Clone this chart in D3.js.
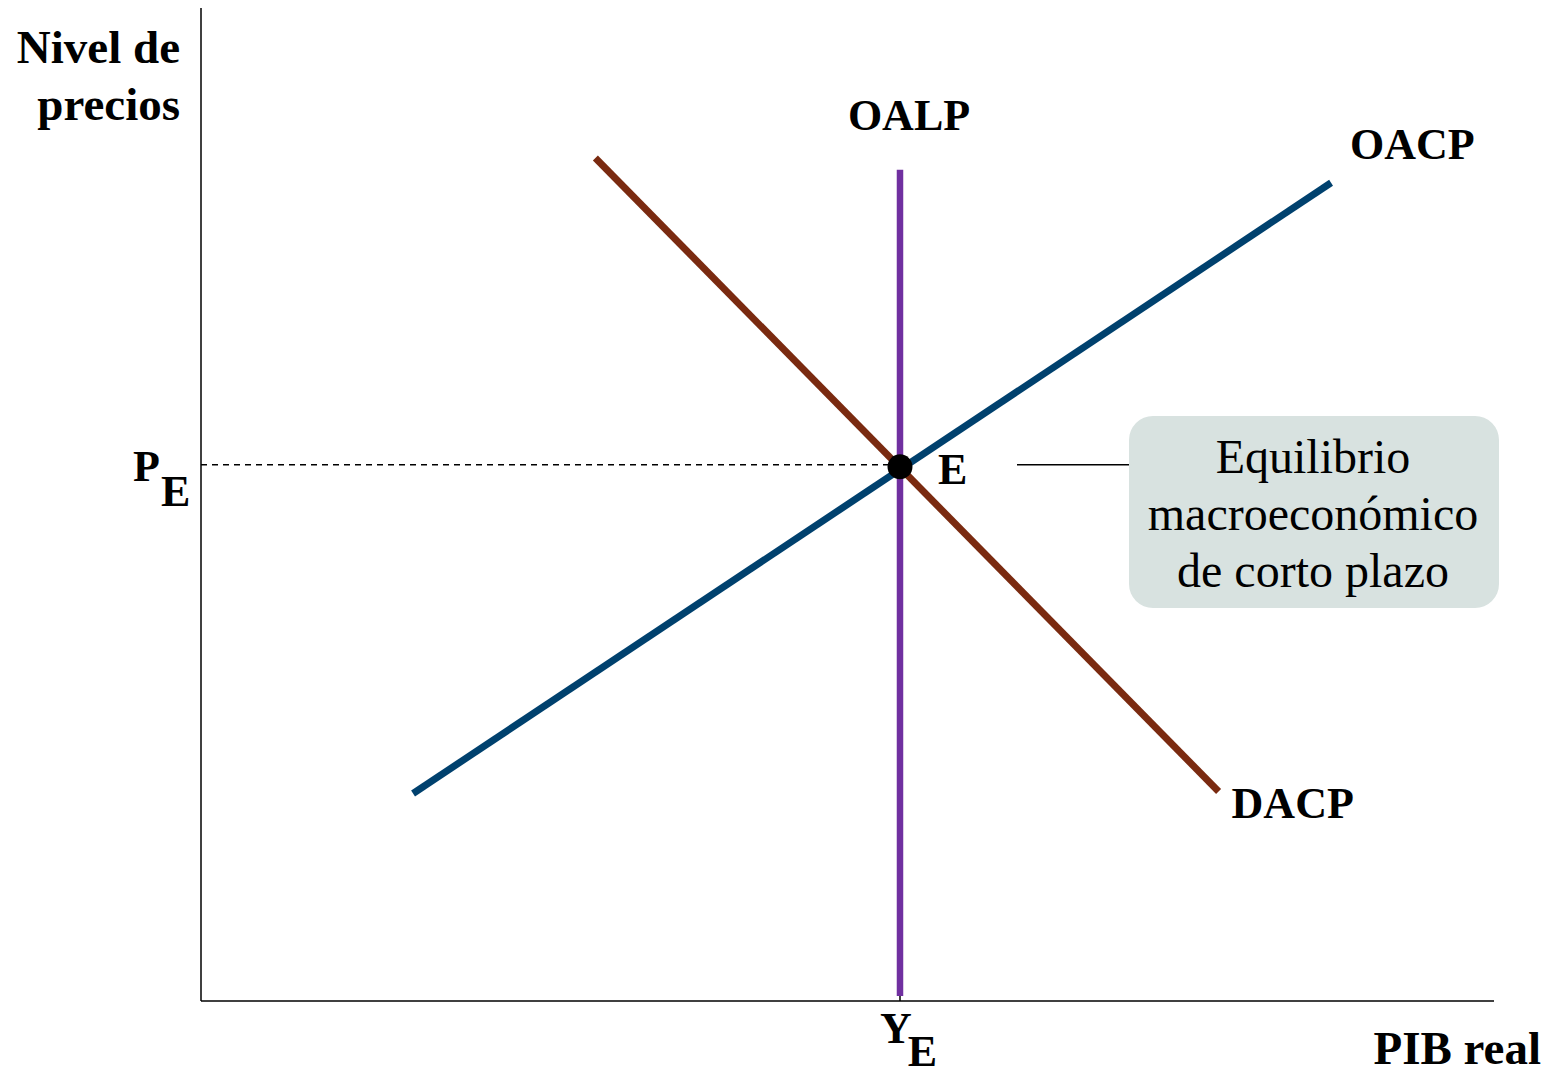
<!DOCTYPE html>
<html>
<head>
<meta charset="utf-8">
<script src="https://cdn.jsdelivr.net/npm/d3@7"></script>
<style>
  html, body { margin: 0; padding: 0; background: #fff; }
  text { font-family: "Liberation Serif", "Times New Roman", serif; }
</style>
</head>
<body>
<div id="graph"></div>
<script>
// curves, in data units (0..100 on both axes)
var curveNames  = ["DACP", "OACP", "OALP"];
var curveX      = [[30.5, 78.7], [16.4, 87.4], [54.06, 54.06]];
var curveY      = [[84.9, 21.1], [20.9, 82.4], [83.7, 0.5]];
var curveColors = ["#7a2a10", "#00416e", "#7030a0"];

// equilibrium point
var eqX = 54.06, eqY = 54.0;
var noteLines = ["Equilibrio", "macroeconómico", "de corto plazo"];

var true_width  = 1549,
    true_height = 1077,
    margin      = {top: 8, left: 201, right: 55, bottom: 76};

var x = d3.scaleLinear()
    .domain([0, 100])
    .range([margin.left, true_width - margin.right]);

var y = d3.scaleLinear()
    .domain([0, 100])
    .range([true_height - margin.bottom, margin.top]);

var svg = d3.select("#graph").append("svg")
    .attr("width", true_width)
    .attr("height", true_height);

// axes (plain lines, no ticks)
svg.append("line")
    .attr("x1", x(0)).attr("x2", x(0))
    .attr("y1", y(0)).attr("y2", y(100))
    .attr("stroke", "#000").attr("stroke-width", 1.5);
svg.append("line")
    .attr("x1", x(0)).attr("x2", x(100))
    .attr("y1", y(0)).attr("y2", y(0))
    .attr("stroke", "#000").attr("stroke-width", 1.5);

// small tick under Y_E
svg.append("line")
    .attr("x1", x(eqX)).attr("x2", x(eqX))
    .attr("y1", y(0)).attr("y2", y(0) - 6)
    .attr("stroke", "#000").attr("stroke-width", 1.5);

// dashed guide to P_E
svg.append("line")
    .attr("x1", x(0)).attr("x2", x(eqX))
    .attr("y1", y(eqY)).attr("y2", y(eqY))
    .attr("stroke", "#000").attr("stroke-width", 1.5)
    .attr("stroke-dasharray", "6,5");

var curves = curveNames.map(function(n, i) {
    return {name: n, x: curveX[i], y: curveY[i], color: curveColors[i]};
});

svg.selectAll("line.curve")
    .data(curves)
    .enter().append("line")
    .attr("class", "curve")
    .attr("x1", function(d) { return x(d.x[0]); })
    .attr("y1", function(d) { return y(d.y[0]); })
    .attr("x2", function(d) { return x(d.x[1]); })
    .attr("y2", function(d) { return y(d.y[1]); })
    .attr("stroke", function(d) { return d.color; })
    .attr("stroke-width", function(d) { return d.name == "OALP" ? 6.5 : 7; });

// equilibrium dot
svg.append("circle")
    .attr("cx", x(eqX)).attr("cy", y(eqY) + 2)
    .attr("r", 12.5)
    .attr("fill", "#000");

// bold labels
function bold(t, px, py, anchor, size) {
    return svg.append("text")
        .attr("x", px).attr("y", py)
        .attr("text-anchor", anchor || "start")
        .attr("font-size", size || 44)
        .attr("font-weight", "bold")
        .attr("fill", "#000")
        .text(t);
}

// letter with a lowered subscript, kept as one text
function subLabel(main, sub, px, py, dx, dy) {
    var t = bold(main, px, py, "start", 44);
    t.append("tspan").attr("dx", dx).attr("dy", dy).text(sub);
}

bold("Nivel de", 180, 63, "end", 47);
bold("precios", 180, 120, "end", 47);
bold("OALP", x(eqX) + 9, 130, "middle");
bold("OACP", x(curveX[1][1]) + 19, 159, "start");
bold("DACP", x(curveX[0][1]) + 13, 818, "start");
bold("E", x(eqX) + 38, 484, "start");
subLabel("P", "E", 133, 481, 1, 25);
subLabel("Y", "E", 880, 1043, -4, 23);
bold("PIB real", 1541, 1064, "end", 47);

// note box
svg.append("line")
    .attr("x1", 1017).attr("x2", 1129)
    .attr("y1", y(eqY)).attr("y2", y(eqY))
    .attr("stroke", "#000").attr("stroke-width", 1.5);

svg.append("rect")
    .attr("x", 1129).attr("y", 416)
    .attr("width", 370).attr("height", 192)
    .attr("rx", 24).attr("ry", 24)
    .attr("fill", "#d8e2e0");

svg.selectAll("text.note")
    .data(noteLines)
    .enter().append("text")
    .attr("class", "note")
    .attr("x", 1313)
    .attr("y", function(d, i) { return 473 + i * 57; })
    .attr("text-anchor", "middle")
    .attr("font-size", 48)
    .attr("fill", "#000")
    .text(function(d) { return d; });
</script>
</body>
</html>
